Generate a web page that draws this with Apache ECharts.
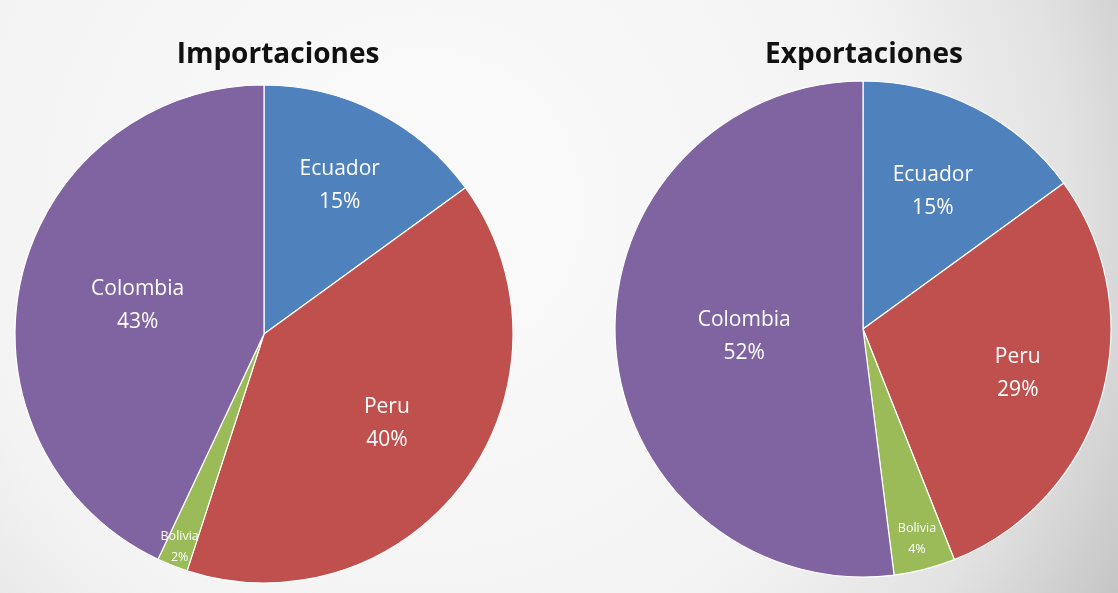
<!DOCTYPE html>
<html>
<head>
<meta charset="utf-8">
<style>
  html, body { margin: 0; padding: 0; background: #f4f4f4; }
  #chart { width: 1118px; height: 593px; }
</style>
<script src="https://cdn.jsdelivr.net/npm/echarts@6/dist/echarts.min.js"></script>
</head>
<body>
<div id="chart"></div>
<script>
// Trade shares by partner country
const categories = ['Ecuador', 'Peru', 'Bolivia', 'Colombia'];
const importValues = [15, 40, 2, 43];
const exportValues = [15, 29, 4, 52];
const chartTitles = ['Importaciones', 'Exportaciones'];

// Layout and styling
const sliceColors = ['#4F81BD', '#C0504D', '#9BBB59', '#8064A2'];
const pies = [
  { center: [264, 334], radius: 249, titleX: 273, values: importValues,
    labelReach: [0.67, 0.61, 0.92, 0.52] },
  { center: [863, 329], radius: 248, titleX: 859, values: exportValues,
    labelReach: [0.62, 0.65, 0.875, 0.48] }
];
const smallLabel = { Bolivia: { fontSize: 12.5, lineHeight: 21 } };
const fontFamily = '"Open Sans", "Liberation Sans", sans-serif';

// Mid-angle of each slice (radians, clockwise from 12 o'clock)
function midAngles(values) {
  const total = values.reduce((a, b) => a + b, 0);
  let acc = 0;
  return values.map(v => {
    const m = (acc + v / 2) / total * Math.PI * 2;
    acc += v;
    return m;
  });
}

const chart = echarts.init(document.getElementById('chart'));

const series = pies.map((p, si) => {
  const angles = midAngles(p.values);
  return {
    type: 'pie',
    center: p.center,
    radius: [0, p.radius],
    startAngle: 90,
    clockwise: true,
    silent: true,
    animation: false,
    itemStyle: { borderColor: '#ffffff', borderWidth: 1.2 },
    label: {
      show: true,
      position: 'inside',
      formatter: '{b}\n{d}%',
      color: '#ffffff',
      fontFamily: fontFamily,
      fontSize: 21,
      lineHeight: 33,
      align: 'center'
    },
    labelLine: { show: false },
    labelLayout: function (params) {
      const i = params.dataIndex;
      const a = angles[i];
      const d = p.labelReach[i] * p.radius;
      return {
        x: p.center[0] + d * Math.sin(a),
        y: p.center[1] - d * Math.cos(a),
        align: 'center',
        verticalAlign: 'middle'
      };
    },
    data: categories.map((name, i) => ({
      name: name,
      value: p.values[i],
      itemStyle: { color: sliceColors[i] },
      label: smallLabel[name] || {}
    }))
  };
});

chart.setOption({
  backgroundColor: {
    type: 'radial', x: 0.38, y: 0.35, r: 1.45,
    colorStops: [
      { offset: 0, color: '#fbfbfb' },
      { offset: 0.55, color: '#f3f3f3' },
      { offset: 0.75, color: '#e2e2e2' },
      { offset: 1, color: '#b8b8b8' }
    ]
  },
  title: pies.map((p, i) => ({
    text: chartTitles[i],
    left: p.titleX,
    top: 36,
    textAlign: 'center',
    textStyle: { fontFamily: fontFamily, fontWeight: 'bold', fontSize: 28, color: '#111111' }
  })),
  series: series
});
</script>
</body>
</html>
